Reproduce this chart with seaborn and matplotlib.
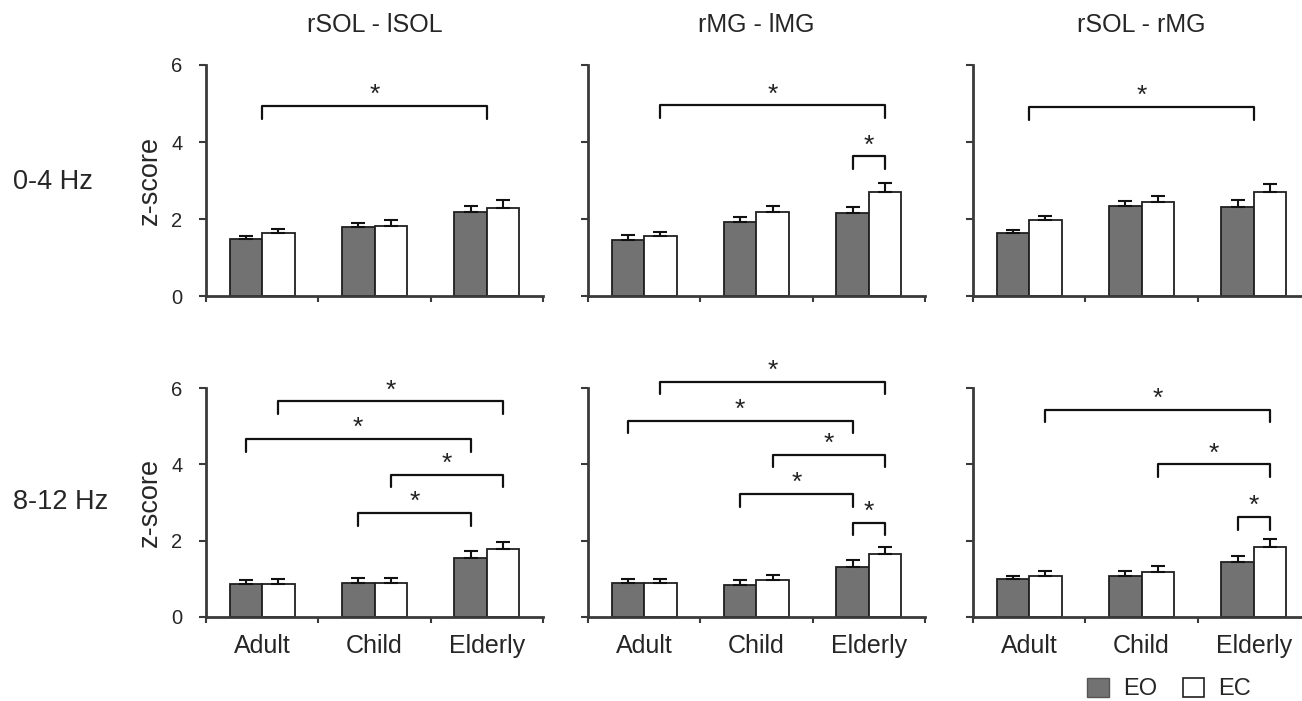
import numpy as np
import pandas as pd
import matplotlib
matplotlib.use("Agg")
import matplotlib.pyplot as plt
import seaborn as sns
from matplotlib.patches import Patch

# ---------------- data ----------------
groups = ["Adult", "Child", "Elderly"]
conditions = ["EO", "EC"]
pairs = ["rSOL - lSOL", "rMG - lMG", "rSOL - rMG"]
bands = ["0-4 Hz", "8-12 Hz"]

# 0-4 Hz
eo_04_sol = [1.47, 1.78, 2.17]; eo_04_sol_err = [0.10, 0.12, 0.18]
ec_04_sol = [1.64, 1.82, 2.29]; ec_04_sol_err = [0.10, 0.15, 0.20]
eo_04_mg = [1.45, 1.92, 2.15];  eo_04_mg_err = [0.13, 0.12, 0.17]
ec_04_mg = [1.55, 2.18, 2.71];  ec_04_mg_err = [0.11, 0.15, 0.22]
eo_04_solmg = [1.63, 2.35, 2.30]; eo_04_solmg_err = [0.09, 0.12, 0.19]
ec_04_solmg = [1.97, 2.45, 2.69]; ec_04_solmg_err = [0.10, 0.14, 0.21]
# 8-12 Hz
eo_812_sol = [0.86, 0.89, 1.54]; eo_812_sol_err = [0.11, 0.12, 0.18]
ec_812_sol = [0.87, 0.88, 1.77]; ec_812_sol_err = [0.12, 0.14, 0.20]
eo_812_mg = [0.89, 0.85, 1.31];  eo_812_mg_err = [0.11, 0.12, 0.18]
ec_812_mg = [0.88, 0.97, 1.64];  ec_812_mg_err = [0.12, 0.14, 0.20]
eo_812_solmg = [0.99, 1.08, 1.45]; eo_812_solmg_err = [0.09, 0.12, 0.16]
ec_812_solmg = [1.08, 1.19, 1.83]; ec_812_solmg_err = [0.12, 0.14, 0.21]

panel_data = {
    (0, 0): (eo_04_sol, ec_04_sol, eo_04_sol_err, ec_04_sol_err),
    (0, 1): (eo_04_mg, ec_04_mg, eo_04_mg_err, ec_04_mg_err),
    (0, 2): (eo_04_solmg, ec_04_solmg, eo_04_solmg_err, ec_04_solmg_err),
    (1, 0): (eo_812_sol, ec_812_sol, eo_812_sol_err, ec_812_sol_err),
    (1, 1): (eo_812_mg, ec_812_mg, eo_812_mg_err, ec_812_mg_err),
    (1, 2): (eo_812_solmg, ec_812_solmg, eo_812_solmg_err, ec_812_solmg_err),
}

# significance brackets: (row, col, (group, cond|None), (group, cond|None), height)
brackets = [
    (0, 0, ("Adult", None), ("Elderly", None), 4.94),
    (0, 1, ("Adult", "EC"), ("Elderly", "EC"), 4.95),
    (0, 1, ("Elderly", "EO"), ("Elderly", "EC"), 3.63),
    (0, 2, ("Adult", None), ("Elderly", None), 4.91),
    (1, 0, ("Adult", "EC"), ("Elderly", "EC"), 5.65),
    (1, 0, ("Adult", "EO"), ("Elderly", "EO"), 4.66),
    (1, 0, ("Child", "EC"), ("Elderly", "EC"), 3.73),
    (1, 0, ("Child", "EO"), ("Elderly", "EO"), 2.72),
    (1, 1, ("Adult", "EC"), ("Elderly", "EC"), 6.17),
    (1, 1, ("Adult", "EO"), ("Elderly", "EO"), 5.14),
    (1, 1, ("Child", "EC"), ("Elderly", "EC"), 4.25),
    (1, 1, ("Child", "EO"), ("Elderly", "EO"), 3.22),
    (1, 1, ("Elderly", "EO"), ("Elderly", "EC"), 2.47),
    (1, 2, ("Adult", "EC"), ("Elderly", "EC"), 5.43),
    (1, 2, ("Child", "EC"), ("Elderly", "EC"), 4.00),
    (1, 2, ("Elderly", "EO"), ("Elderly", "EC"), 2.62),
]

# ---------------- style ----------------
sns.set_style("ticks")
plt.rcParams["font.family"] = ["Liberation Sans", "DejaVu Sans"]

EO_COLOR = "#727272"
EC_COLOR = "#ffffff"
SPINE = "#3a3a3a"

W, H = 1302, 701
fig = plt.figure(figsize=(W / 100, H / 100), dpi=100)

col_left = [206, 588, 973]
col_w = 337
row_top = [65, 388]
row_bottom = [296, 617]

axes = {}
for r in range(2):
    for c in range(3):
        left = col_left[c] / W
        bottom = 1 - row_bottom[r] / H
        height = (row_bottom[r] - row_top[r]) / H
        ax = fig.add_axes([left, bottom, col_w / W, height])
        axes[(r, c)] = ax

for (r, c), ax in axes.items():
    eo, ec, eo_err, ec_err = panel_data[(r, c)]
    df = pd.DataFrame({
        "group": groups * 2,
        "cond": ["EO"] * 3 + ["EC"] * 3,
        "z": list(eo) + list(ec),
    })
    sns.barplot(data=df, x="group", y="z", hue="cond", order=groups,
                hue_order=conditions, palette=[EO_COLOR, EC_COLOR],
                width=0.58, gap=0, errorbar=None, edgecolor="#202020",
                linewidth=1.3, legend=False, ax=ax, saturation=1)
    # bar centres from the drawn containers
    centers = {}
    for cond, cont, errs in zip(conditions, ax.containers[:2], [eo_err, ec_err]):
        xs, ys = [], []
        for g, bar in zip(groups, cont):
            xc = bar.get_x() + bar.get_width() / 2
            centers[(g, cond)] = xc
            xs.append(xc)
            ys.append(bar.get_height())
        ax.errorbar(xs, ys, yerr=[np.zeros(len(errs)), errs], fmt="none",
                    ecolor="#111111", elinewidth=1.5, capsize=5, capthick=1.5,
                    zorder=3)
    for g in groups:
        centers[(g, None)] = (centers[(g, "EO")] + centers[(g, "EC")]) / 2

    ax.set_xlim(-0.5, 2.5)
    ax.set_ylim(0, 6)
    ax.set_yticks([0, 2, 4, 6])
    ax.set_xticks([0, 1, 2])
    ax.set_xticks([-0.5, 0.5, 1.5, 2.5], minor=True)
    ax.tick_params(axis="x", which="major", length=0, pad=12, labelsize=18)
    ax.tick_params(axis="x", which="minor", length=4, width=1.5, color=SPINE)
    ax.tick_params(axis="y", length=5, width=1.5, color=SPINE, labelsize=14.5, pad=12)
    if r == 0:
        ax.set_xticklabels([])
    else:
        ax.set_xticklabels(groups)
    if c != 0:
        ax.set_yticklabels([])
        ax.set_ylabel("")
    else:
        ax.set_ylabel("z-score", fontsize=19.5, labelpad=6)
    ax.set_xlabel("")
    for s in ["top", "right"]:
        ax.spines[s].set_visible(False)
    for s in ["left", "bottom"]:
        ax.spines[s].set_color(SPINE)
        ax.spines[s].set_linewidth(2)
    if r == 0:
        ax.set_title(pairs[c], fontsize=18, pad=24)

    for (br, bc, a, b, yb) in brackets:
        if (br, bc) != (r, c):
            continue
        x1, x2 = centers[a], centers[b]
        drop = 0.33
        ax.plot([x1, x1, x2, x2], [yb - drop, yb, yb, yb - drop],
                color="#111111", lw=1.6, clip_on=False, zorder=4)
        ax.text((x1 + x2) / 2, yb - 0.03, "*", ha="center", va="bottom",
                fontsize=19, color="#222222", clip_on=False)

# row labels
fig.text(13 / W, 1 - 182 / H, bands[0], fontsize=19.5, ha="left", va="center")
fig.text(13 / W, 1 - 502 / H, bands[1], fontsize=19.5, ha="left", va="center")

# legend
handles = [Patch(facecolor=EO_COLOR, edgecolor="#555555", label="EO"),
           Patch(facecolor=EC_COLOR, edgecolor="#202020", linewidth=1.2, label="EC")]
fig.legend(handles=handles, loc="center right", bbox_to_anchor=(1251 / W, 1 - 689 / H),
           ncol=2, frameon=False, fontsize=17, handlelength=0.9, handleheight=0.9,
           columnspacing=1.1, handletextpad=0.6, borderaxespad=0.0, borderpad=0.0)

fig.savefig("out.png", dpi=100)
